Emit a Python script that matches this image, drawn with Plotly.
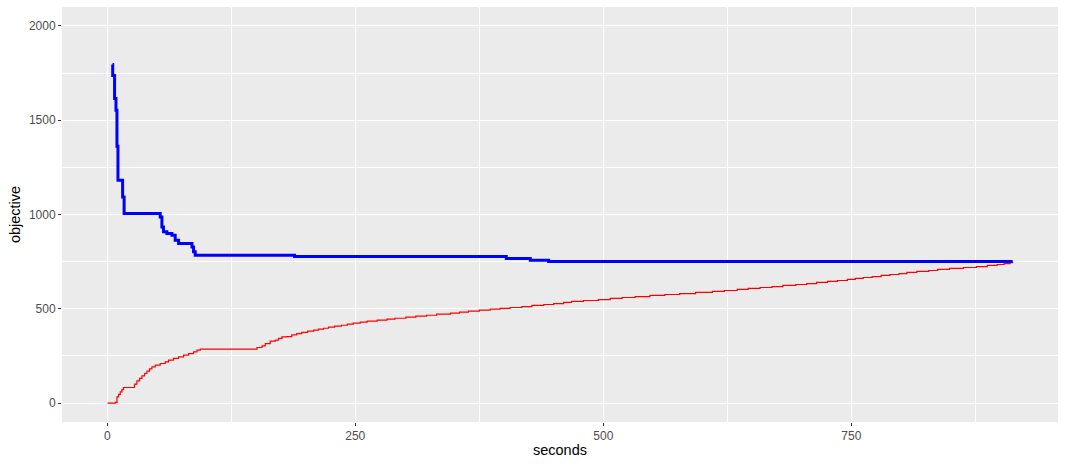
import plotly.graph_objects as go

# Blue series (best objective): step start points
blue_x = [5.3, 5.5, 7.4, 8.8, 9.8, 10.8, 15.5, 17.0, 53.4, 55.1, 56.7, 60.1, 65.2, 68.5,
          71.9, 85.4, 87.0, 88.7, 188.8, 402.2, 426.4, 444.9, 912.6]
blue_y = [1795, 1737, 1615, 1553, 1362, 1182, 1093, 1005, 987, 934, 908, 899, 890, 864,
          846, 828, 802, 784, 777, 767, 758, 751, 751]

# Red series (bound): step start points
red_x = [0.3, 8.1, 9.8, 11.4, 13.1, 14.8, 16.4, 27.5, 29.9, 32.6, 35.0, 37.6, 40.0, 42.6,
         45.0, 48.4, 53.4, 58.5, 61.8, 66.8, 71.9, 76.9, 82.0, 87.0, 90.4, 93.8, 150.9,
         156.0, 159.3, 164.3, 169.4, 172.7, 176.1, 181, 186, 191, 196, 202, 208, 213, 218,
         223, 229, 236, 242, 248, 255, 262, 272, 282, 290, 301, 311, 322, 332, 346, 355,
         364, 375, 386, 396, 406, 418, 428, 440, 450, 460, 468, 480, 495, 507, 519, 532,
         547, 562, 577, 593, 610, 622, 635, 646, 658, 670, 681, 694, 705, 715, 726, 736,
         746, 754, 762, 771, 780, 789, 798, 806, 816, 828, 837, 849, 863, 876, 887, 897,
         904, 910, 912.6]
red_y = [0, 4, 33, 46, 60, 72, 83, 101, 118, 131, 145, 157, 170, 182,
         192, 201, 210, 219, 228, 237, 245, 254, 263, 272, 281, 286, 295,
         304, 316, 329, 334, 343, 351, 353, 362, 369, 375, 382, 387, 392, 397,
         403, 408, 413, 419, 424, 429, 435, 440, 445, 450, 456, 461, 466, 472, 477, 482,
         488, 493, 498, 502, 507, 512, 518, 523, 528, 534, 539, 544, 549, 555, 560, 565,
         571, 576, 581, 587, 592, 597, 603, 608, 613, 618, 624, 629, 634, 640, 645, 650,
         656, 661, 666, 671, 677, 682, 687, 693, 698, 703, 709, 714, 719, 724, 730, 735,
         740, 745, 750]

x_ticks = [0, 250, 500, 750]
y_ticks = [0, 500, 1000, 1500, 2000]

fig = go.Figure()
fig.add_trace(go.Scatter(x=red_x, y=red_y, mode="lines", line=dict(color="red", width=1.2, shape="hv"),
                         showlegend=False, hoverinfo="skip"))
fig.add_trace(go.Scatter(x=blue_x, y=blue_y, mode="lines", line=dict(color="blue", width=3, shape="hv"),
                         showlegend=False, hoverinfo="skip"))

axis_common = dict(
    showgrid=True, gridcolor="white", gridwidth=1.1,
    zeroline=False, showline=False, automargin=False,
    ticks="outside", ticklen=3, tickwidth=1, tickcolor="#333333",
    tickfont=dict(family="Liberation Sans, Arial, sans-serif", size=12, color="#4D4D4D"),
    title_font=dict(family="Liberation Sans, Arial, sans-serif", size=14.5, color="black"),
)

fig.update_layout(
    width=1066, height=467,
    margin=dict(l=62, r=8, t=7, b=45),
    paper_bgcolor="white", plot_bgcolor="#EBEBEB",
    xaxis=dict(range=[-45.6, 958.3], tickvals=x_ticks, ticktext=[str(v) for v in x_ticks],
               title=dict(text="seconds", standoff=2),
               minor=dict(tickvals=[125, 375, 625, 875], showgrid=True, gridcolor="white",
                          gridwidth=0.55, ticks=""),
               **axis_common),
    yaxis=dict(range=[-100, 2100], tickvals=y_ticks, ticktext=[str(v) for v in y_ticks],
               title=dict(text="objective", standoff=4),
               minor=dict(tickvals=[250, 750, 1250, 1750], showgrid=True, gridcolor="white",
                          gridwidth=0.55, ticks=""),
               **axis_common),
)

fig.write_html("out.html", config={"displayModeBar": False},
               post_script="document.body.style.margin='0';")
